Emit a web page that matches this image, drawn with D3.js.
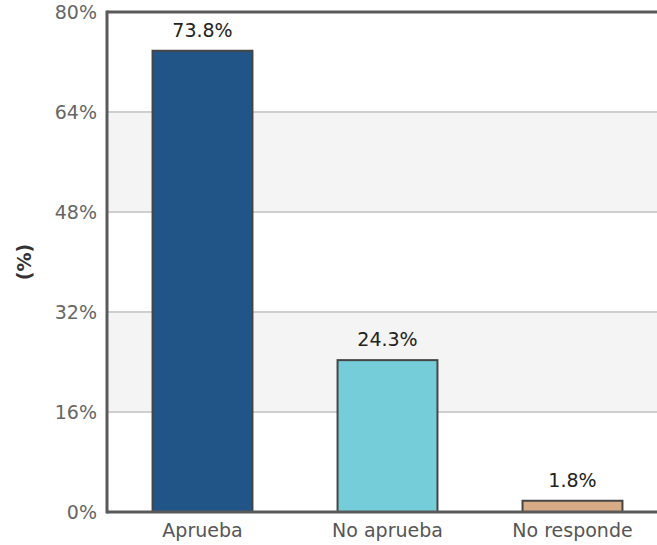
<!DOCTYPE html>
<html>
<head>
<meta charset="utf-8">
<script src="https://cdn.jsdelivr.net/npm/d3@7"></script>
<style>
  html, body { margin: 0; padding: 0; background: #fff; }
  svg { display: block; }
  text { font-family: "DejaVu Sans", Verdana, sans-serif; }
</style>
</head>
<body>
<svg id="chart" width="657" height="545"></svg>
<script>
const categories = ["Aprueba", "No aprueba", "No responde"];
const values = [73.8, 24.3, 1.8];
const colors = ["#215588", "#74cdd8", "#d6ab86"];
const yTicks = [0, 16, 32, 48, 64, 80];
const yTitle = "(%)";

(function () {
const svg = d3.select("#chart");
const pLeft = 107, pRight = 665, pTop = 12, pBottom = 512;

const x = d3.scaleBand().domain(categories).range([110, 665]).paddingInner(0.46).paddingOuter(0.23);
const y = d3.scaleLinear().domain([0, 80]).range([pBottom, pTop]);

// alternating bands
const bands = [];
for (let i = 0; i < yTicks.length - 1; i++) bands.push([yTicks[i], yTicks[i + 1], i]);
svg.append("g").selectAll("rect").data(bands.filter(b => b[2] % 2 === 1)).join("rect")
  .attr("x", pLeft).attr("width", pRight - pLeft)
  .attr("y", d => y(d[1])).attr("height", d => y(d[0]) - y(d[1]))
  .attr("fill", "#f4f4f4");

// gridlines
svg.append("g").selectAll("line").data(yTicks.slice(1, -1)).join("line")
  .attr("x1", pLeft).attr("x2", pRight)
  .attr("y1", d => y(d)).attr("y2", d => y(d))
  .attr("stroke", "#cfcfcf").attr("stroke-width", 2);

// bars
svg.append("g").selectAll("rect").data(values).join("rect")
  .attr("x", (d, i) => x(categories[i]))
  .attr("width", x.bandwidth())
  .attr("y", d => y(d))
  .attr("height", d => y(0) - y(d))
  .attr("fill", (d, i) => colors[i])
  .attr("stroke", "#454545").attr("stroke-width", 2);

// value labels
svg.append("g").selectAll("text").data(values).join("text")
  .attr("x", (d, i) => x(categories[i]) + x.bandwidth() / 2)
  .attr("y", d => y(d) - 14)
  .attr("text-anchor", "middle")
  .attr("font-size", "19px")
  .attr("fill", "#222")
  .text(d => d.toFixed(1) + "%");

// plot frame (top, bottom)
svg.append("line").attr("x1", pLeft).attr("x2", pRight).attr("y1", pTop).attr("y2", pTop)
  .attr("stroke", "#5a5a5a").attr("stroke-width", 3);
svg.append("line").attr("x1", pLeft).attr("x2", pRight).attr("y1", pBottom).attr("y2", pBottom)
  .attr("stroke", "#5a5a5a").attr("stroke-width", 3);

// y axis
const yAxis = d3.axisLeft(y).tickValues(yTicks).tickSize(0).tickPadding(10).tickFormat(d => d + "%");
const gy = svg.append("g").attr("transform", `translate(${pLeft},0)`).call(yAxis);
gy.select(".domain").attr("stroke", "#5a5a5a").attr("stroke-width", 3)
  .attr("d", `M0,${pTop - 1.5}V${pBottom + 1.5}`);
gy.selectAll("text").attr("font-size", "19px").attr("fill", "#666")
  .attr("font-family", "DejaVu Sans, Verdana, sans-serif");

// x axis
const xAxis = d3.axisBottom(x).tickSize(0).tickPadding(12);
const gx = svg.append("g").attr("transform", `translate(0,${pBottom})`).call(xAxis);
gx.select(".domain").remove();
gx.selectAll("text").attr("font-size", "19px").attr("fill", "#555")
  .attr("font-family", "DejaVu Sans, Verdana, sans-serif");

// y title
svg.append("text")
  .attr("transform", `translate(31,${(pTop + pBottom) / 2}) rotate(-90)`)
  .attr("text-anchor", "middle")
  .attr("font-size", "19px").attr("font-weight", "bold").attr("fill", "#333")
  .text(yTitle);
})();
</script>
</body>
</html>
